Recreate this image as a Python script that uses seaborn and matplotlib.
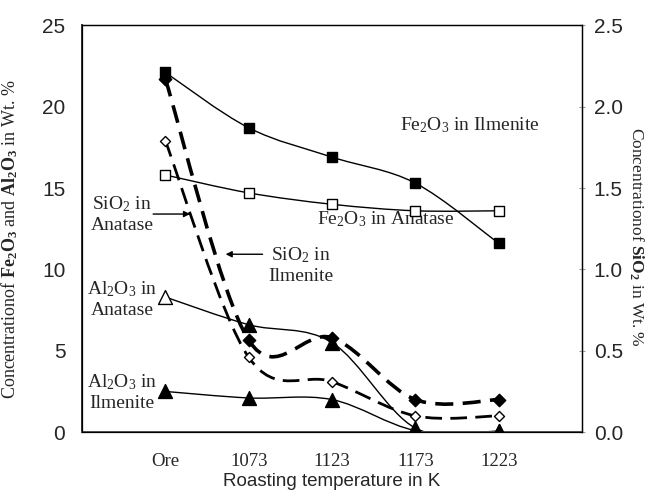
import numpy as np
import matplotlib
matplotlib.use("Agg")
import matplotlib.pyplot as plt
import seaborn as sns
from matplotlib.path import Path
from matplotlib.patches import PathPatch

categories = ["Ore", "1073", "1123", "1173", "1223"]
fe2o3_ilmenite = [22.1, 18.7, 16.9, 15.3, 11.6]
fe2o3_anatase = [15.8, 14.7, 14.0, 13.6, 13.6]
al2o3_anatase = [8.3, 6.6, 5.5, 0.25, 0.05]
al2o3_ilmenite = [2.5, 2.1, 2.0, 0.1, 0.05]
sio2_ilmenite = [2.17, 0.565, 0.58, 0.20, 0.20]
sio2_anatase = [1.79, 0.46, 0.31, 0.10, 0.10]

sns.set_style("white")
plt.rcParams['font.family'] = ['Liberation Serif', 'DejaVu Serif']
plt.rcParams['mathtext.fontset'] = 'custom'
plt.rcParams['mathtext.rm'] = 'Liberation Serif'
plt.rcParams['mathtext.it'] = 'Liberation Serif:italic'
plt.rcParams['mathtext.bf'] = 'Liberation Serif:bold'

fig = plt.figure(figsize=(6.51, 4.95), dpi=100)
ax = fig.add_axes([0.126, 0.127, 0.768, 0.822])
ax2 = ax.twinx()

xpos = np.arange(1, len(categories) + 1)


def smooth_curve(axis, xs, ys, **kw):
    xs = np.asarray(xs, float)
    ys = np.asarray(ys, float)
    pts = np.column_stack([xs, ys])
    n = len(pts)
    verts = [tuple(pts[0])]
    codes = [Path.MOVETO]
    for i in range(n - 1):
        p0 = pts[i - 1] if i > 0 else pts[i]
        p1 = pts[i]
        p2 = pts[i + 1]
        p3 = pts[i + 2] if i + 2 < n else pts[i + 1]
        c1 = p1 + (p2 - p0) / 6.0
        c2 = p2 - (p3 - p1) / 6.0
        verts += [tuple(c1), tuple(c2), tuple(p2)]
        codes += [Path.CURVE4] * 3
    patch = PathPatch(Path(verts, codes), fill=False, **kw)
    patch.set_clip_on(True)
    axis.add_patch(patch)


# left-axis series
smooth_curve(ax, xpos, fe2o3_ilmenite, edgecolor='black', linewidth=1.0)
smooth_curve(ax, xpos, fe2o3_anatase, edgecolor='black', linewidth=1.0)
smooth_curve(ax, xpos, al2o3_anatase, edgecolor='black', linewidth=1.0)
smooth_curve(ax, xpos, al2o3_ilmenite, edgecolor='black', linewidth=1.0)

sns.scatterplot(x=xpos, y=fe2o3_ilmenite, marker='s', s=52, color='black',
                edgecolor='black', linewidth=1, ax=ax, zorder=5)
sns.scatterplot(x=xpos, y=fe2o3_anatase, marker='s', s=42, color='white',
                edgecolor='black', linewidth=1, ax=ax, zorder=5)
sns.scatterplot(x=xpos[1:], y=al2o3_anatase[1:], marker='^', s=100, color='black',
                edgecolor='black', linewidth=1, ax=ax, zorder=5)
sns.scatterplot(x=xpos[:1], y=al2o3_anatase[:1], marker='^', s=100, color='white',
                edgecolor='black', linewidth=1, ax=ax, zorder=5)
sns.scatterplot(x=xpos, y=al2o3_ilmenite, marker='^', s=100, color='black',
                edgecolor='black', linewidth=1, ax=ax, zorder=5)

# right-axis series
smooth_curve(ax2, xpos, sio2_ilmenite, edgecolor='black', linewidth=2.6,
             linestyle=(0, (5, 2.6)))
smooth_curve(ax2, xpos, sio2_anatase, edgecolor='black', linewidth=2.0,
             linestyle=(0, (6, 3)))
sns.scatterplot(x=xpos, y=sio2_ilmenite, marker='D', s=40, color='black',
                edgecolor='black', linewidth=1, ax=ax2, zorder=5)
sns.scatterplot(x=xpos, y=sio2_anatase, marker='D', s=26, color='white',
                edgecolor='black', linewidth=1, ax=ax2, zorder=5)

ax.set_xlim(0, 6)
ax.set_ylim(0, 25)
ax2.set_ylim(0, 2.5)
ax.set_xticks(xpos)
ax.set_xticklabels(categories, fontsize=13.5, family='Liberation Serif')
ax.set_yticks([0, 5, 10, 15, 20, 25])
ax.set_yticklabels(['0', '5', '10', '15', '20', '25'], fontsize=15,
                   family='Liberation Sans')
ax2.set_yticks([0, 0.5, 1.0, 1.5, 2.0, 2.5])
ax2.set_yticklabels(['0.0', '0.5', '1.0', '1.5', '2.0', '2.5'], fontsize=15,
                    family='Liberation Sans')
ax.tick_params(axis='x', length=4, direction='inout', color='#999999', pad=13)
ax.tick_params(axis='y', length=0, pad=12)
ax2.tick_params(axis='y', length=5, direction='inout', color='#999999', pad=6)

for a in (ax, ax2):
    for side, sp in a.spines.items():
        sp.set_visible(True)
        sp.set_color('black')
        sp.set_linewidth(0.9)
ax.spines['left'].set_linewidth(1.4)
ax.spines['left'].set_color('#333333')
ax.spines['bottom'].set_linewidth(1.4)
ax.spines['bottom'].set_color('#555555')

ax.set_xlabel('Roasting temperature in K', fontsize=13.5, family='Liberation Sans')
ax.set_ylabel(r'Concentrationof $\mathbf{Fe_2O_3}$ and $\mathbf{Al_2O_3}$ in Wt. %',
              fontsize=13)
ax2.set_ylabel(r'Concentrationof $\mathbf{SiO_2}$ in Wt. %', fontsize=12.5,
               rotation=-90, va='center')
ax.xaxis.set_label_coords(0.5, -0.1)
ax.yaxis.set_label_coords(-0.124, 0.474)
ax2.yaxis.set_label_coords(1.108, 0.48)

tk = dict(fontsize=14, ha='center', va='center', linespacing=1.2)
ax.text(4.66, 18.86, r'Fe$_2$O$_3$ in Ilmenite', **tk)
ax.text(3.64, 13.1, r'Fe$_2$O$_3$ in Anatase', **tk)
ax.text(0.48, 13.4, 'SiO$_2$ in\nAnatase', **tk)
ax.text(2.62, 10.26, 'SiO$_2$ in\nIlmenite', **tk)
ax.text(0.48, 8.17, 'Al$_2$O$_3$ in\nAnatase', **tk)
ax.text(0.48, 2.46, 'Al$_2$O$_3$ in\nIlmenite', **tk)

arrow = dict(arrowstyle='-|>', color='black', lw=1.0, mutation_scale=9)
ax.annotate('', xy=(1.33, 13.4), xytext=(0.82, 13.4), arrowprops=arrow)
ax.annotate('', xy=(1.69, 10.93), xytext=(2.2, 10.93), arrowprops=arrow)

fig.savefig('out.png', dpi=100)
